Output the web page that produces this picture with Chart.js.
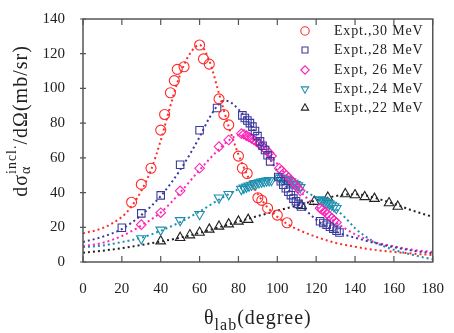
<!DOCTYPE html>
<html>
<head>
<meta charset="utf-8">
<script src="https://cdn.jsdelivr.net/npm/chart.js@4.4.1/dist/chart.umd.min.js"></script>
<style>
  html, body { margin: 0; padding: 0; background: #fff; }
  canvas { display: block; }
</style>
</head>
<body>
<canvas id="c" width="454" height="333"></canvas>
<script>
const xTicks = [0, 20, 40, 60, 80, 100, 120, 140, 160, 180];
const yTicks = [0, 20, 40, 60, 80, 100, 120, 140];

const labels = ['Expt.,30 MeV', 'Expt.,28 MeV', 'Expt, 26 MeV', 'Expt.,24 MeV', 'Expt.,22 MeV'];

// measured points
const e30X = [25, 30, 35, 40, 42, 45, 47, 48.5, 52, 60, 62, 65, 70, 72.5, 75, 80, 82, 84.5, 90, 92, 95, 100, 105];
const e30Y = [34.4, 44.7, 54, 76, 85, 97.5, 104.5, 111, 112.5, 125, 117, 114, 94, 85, 79, 61, 54, 51, 37, 35.5, 31, 27, 22.6];

const e28X = [20, 30, 40, 50, 60, 69,
  82, 83.3, 84.6, 85.9, 87.2, 88.5, 89.8, 91.1, 92.4, 93.7, 95, 96.3,
  100.5, 101.8, 103.1, 104.4, 105.7, 107, 108.3, 109.6, 110.9, 112.2,
  122, 123.7, 125.4, 127.1, 128.8, 130.5, 132];
const e28Y = [19.7, 28, 38.4, 56, 75.9, 88.7,
  84.5, 83, 81.5, 80, 78, 75.5, 72.5, 69.5, 67, 64.5, 61.5, 58,
  49, 46.5, 44.5, 42.5, 40.5, 38.5, 36.5, 35, 33.5, 32,
  23.5, 22.5, 21.5, 20.3, 19.2, 18, 17];

const e26X = [30, 40, 50, 60, 70, 75,
  81.5, 82.8, 84.1, 85.4, 86.7, 88, 89.3, 90.6, 91.9, 93.2, 94.5, 95.8, 97,
  101, 102.2, 103.4, 104.6, 105.8, 107, 108.2, 109.4, 110.6, 111.8,
  122, 123.2, 124.4, 125.6, 126.8, 128, 129.2, 130.4];
const e26Y = [21.5, 28.4, 41, 54, 66.5, 70.3,
  74, 73.6, 72.8, 72, 71.2, 70.3, 69.3, 68.2, 67, 65.8, 64.3, 62.8, 61,
  54, 52.7, 51.3, 50, 48.6, 47.2, 45.7, 44.2, 42.6, 41,
  31, 30, 29, 27.8, 26.5, 25.2, 24, 22.8];

const e24X = [30, 40, 50, 60, 70, 75,
  81.5, 82.8, 84.1, 85.4, 86.7, 88, 89.3, 90.6, 91.9, 93.2, 94.5, 95.8, 97,
  101, 102.2, 103.4, 104.6, 105.8, 107, 108.2, 109.4, 110.6, 111.8,
  122, 123.2, 124.4, 125.6, 126.8, 128, 129.2, 130.4];
const e24Y = [13.5, 18.5, 24, 27.5, 37, 39,
  42, 42.7, 43.3, 43.9, 44.4, 44.9, 45.4, 45.8, 46.2, 46.5, 46.8, 47, 47.1,
  48.5, 48.3, 48, 47.5, 47, 46.3, 45.5, 44.8, 44, 43,
  36, 35.5, 35, 34.2, 33.5, 32.8, 32, 31];

const e22X = [40, 50, 55, 60, 65, 70, 75, 80, 85, 112.5, 119, 126, 135, 140, 145, 150, 157.5, 162];
const e22Y = [12, 14, 15.5, 17, 18.8, 20.5, 21.8, 23.4, 24.4, 32.4, 34.8, 37.2, 39.2, 38.6, 37.5, 36.5, 34, 32];

// fitted curves
const f30X = [0, 10, 20, 25, 30, 35, 40, 45, 50, 55, 60, 65, 70, 75, 80, 85, 90, 95, 100, 105, 110, 120, 130, 140, 150, 160, 170, 180];
const f30Y = [16.5, 19.5, 26, 32, 41, 53, 70, 90, 108, 120, 125, 116, 97, 78, 62, 49, 39, 31.5, 26, 22, 19, 14.5, 11, 8.8, 7, 5.8, 4.8, 4];

const f28X = [0, 10, 20, 30, 40, 50, 60, 65, 70, 73, 76, 80, 85, 90, 95, 100, 105, 110, 115, 120, 125, 130, 140, 150, 160, 170, 180];
const f28Y = [11.5, 14.5, 19, 27, 38, 53, 72, 83, 91, 93, 92, 88, 81, 72, 62, 52, 43, 35.5, 29.5, 24.5, 20.5, 17.5, 14, 11, 8.5, 6.5, 5];

const f26X = [0, 10, 20, 30, 40, 50, 60, 70, 75, 80, 85, 90, 95, 100, 105, 110, 115, 120, 125, 130, 140, 150, 160, 170, 180];
const f26Y = [9, 11, 15, 21, 28.5, 40, 53, 65, 70, 73, 72.5, 68.5, 63, 56.5, 49.5, 43, 37, 32, 27.5, 23, 16, 11.5, 9, 7, 5.8];

const f24X = [0, 10, 20, 30, 40, 50, 60, 70, 80, 90, 95, 100, 105, 110, 115, 120, 125, 130, 135, 140, 145, 150, 160, 170, 180];
const f24Y = [8.5, 9.5, 11.5, 14, 18, 23, 29, 36, 42, 46, 47.3, 47.5, 46, 43.5, 40.5, 37, 34, 30.5, 25.5, 19.5, 15, 11.5, 7, 4, 1.5];

const f22X = [0, 10, 20, 30, 40, 50, 60, 70, 80, 90, 100, 110, 120, 130, 135, 140, 145, 150, 160, 170, 180];
const f22Y = [5.3, 6.5, 8, 9.8, 11.8, 14, 16.8, 20, 23.3, 26.5, 29.5, 32.5, 35.5, 38, 38.8, 39, 38.5, 37, 33.5, 29.5, 26];

const colors = ['#ff2a2a', '#3a3a9e', '#ff22b8', '#1b8fae', '#222222'];
const styles = ['circle', 'rect', 'rectRot', 'triangle', 'triangle'];
const rotations = [0, 0, 0, 180, 0];
const radii = [5, 5.3, 4.8, 5.5, 5.5];

const pts = (xs, ys) => xs.map((x, i) => ({ x, y: ys[i] }));
const expt = [[e30X, e30Y], [e28X, e28Y], [e26X, e26Y], [e24X, e24Y], [e22X, e22Y]];
const fits = [[f30X, f30Y], [f28X, f28Y], [f26X, f26Y], [f24X, f24Y], [f22X, f22Y]];

const datasets = [];
expt.forEach(([xs, ys], i) => {
  datasets.push({
    label: labels[i],
    data: pts(xs, ys),
    showLine: false,
    pointStyle: styles[i],
    rotation: rotations[i],
    pointRadius: radii[i],
    pointBorderWidth: 1.1,
    borderColor: colors[i],
    pointBorderColor: colors[i],
    backgroundColor: 'rgba(0,0,0,0)',
    pointBackgroundColor: 'rgba(0,0,0,0)'
  });
});
fits.forEach(([xs, ys], i) => {
  datasets.push({
    label: labels[i] + ' fit',
    data: pts(xs, ys),
    showLine: true,
    pointRadius: 0,
    borderColor: colors[i],
    borderWidth: 2,
    borderDash: [2, 3],
    tension: 0.4,
    cubicInterpolationMode: 'monotone'
  });
});

const serif = '"Liberation Serif", "Times New Roman", serif';
Chart.defaults.font.family = serif;
Chart.defaults.color = '#222';

function drawRuns(ctx, x, y, runs) {
  // runs: {text, size, dy} or {stack:[...]}
  let cx = x;
  runs.forEach(r => {
    const parts = r.stack || [r];
    let w = 0;
    parts.forEach(p => {
      ctx.font = p.size + 'px ' + serif;
      ctx.fillText(p.text, cx, y + (p.dy || 0));
      w = Math.max(w, ctx.measureText(p.text).width);
    });
    cx += w;
  });
  return cx - x;
}
function runsWidth(ctx, runs) {
  let w = 0;
  runs.forEach(r => {
    const parts = r.stack || [r];
    let m = 0;
    parts.forEach(p => { ctx.font = p.size + 'px ' + serif; m = Math.max(m, ctx.measureText(p.text).width); });
    w += m;
  });
  return w;
}

const decor = {
  id: 'decor',
  afterDraw(chart) {
    const { ctx, chartArea: a, scales: { x, y } } = chart;
    ctx.save();
    ctx.strokeStyle = '#555';
    ctx.lineWidth = 1.5;
    ctx.strokeRect(a.left, a.top, a.right - a.left, a.bottom - a.top);
    ctx.lineWidth = 1.2;
    ctx.beginPath();
    xTicks.forEach(v => {
      const px = x.getPixelForValue(v);
      ctx.moveTo(px, a.bottom); ctx.lineTo(px, a.bottom - 6);
      ctx.moveTo(px, a.top); ctx.lineTo(px, a.top + 6);
    });
    yTicks.forEach(v => {
      const py = y.getPixelForValue(v);
      ctx.moveTo(a.left - 3, py); ctx.lineTo(a.left + 3, py);
    });
    ctx.stroke();

    // legend
    ctx.textBaseline = 'middle';
    ctx.letterSpacing = '0.8px';
    ctx.font = '14px ' + serif;
    const rows = [31, 50, 70, 89, 108];
    labels.forEach((t, i) => {
      ctx.strokeStyle = colors[i];
      ctx.fillStyle = 'rgba(0,0,0,0)';
      ctx.lineWidth = 1.1;
      Chart.helpers.drawPoint(ctx, { pointStyle: styles[i], rotation: rotations[i], radius: 4.2, borderWidth: 1.1 }, 305, rows[i]);
      ctx.fillStyle = '#222';
      ctx.fillText(t, 334, rows[i]);
    });

    // axis titles
    ctx.textBaseline = 'alphabetic';
    ctx.letterSpacing = '1px';
    ctx.fillStyle = '#222';
    const xt = [{ text: 'θ', size: 20 }, { text: 'lab', size: 16, dy: 6 }, { text: '(degree)', size: 20 }];
    const xw = runsWidth(ctx, xt);
    drawRuns(ctx, (a.left + a.right) / 2 - xw / 2, 324, xt);

    const yt = [
      { text: 'dσ', size: 20 },
      { stack: [{ text: 'α', size: 14, dy: 3 }, { text: 'incl.', size: 14, dy: -11 }] },
      { text: '/dΩ(mb/sr)', size: 20 }
    ];
    const yw = runsWidth(ctx, yt);
    ctx.translate(27, 121);
    ctx.rotate(-Math.PI / 2);
    drawRuns(ctx, -yw / 2, 0, yt);
    ctx.restore();
  }
};

new Chart(document.getElementById('c'), {
  type: 'scatter',
  data: { datasets },
  options: {
    responsive: false,
    animation: false,
    layout: { padding: { top: 4, right: 11, left: 0, bottom: 0 } },
    plugins: { legend: { display: false }, tooltip: { enabled: false } },
    scales: {
      x: {
        type: 'linear', min: 0, max: 180,
        afterBuildTicks: s => { s.ticks = xTicks.map(v => ({ value: v })); },
        ticks: { padding: 10, font: { size: 15 }, color: '#222' },
        grid: { display: false },
        border: { display: false },
        afterFit: s => { s.height = 71; }
      },
      y: {
        type: 'linear', min: 0, max: 140,
        afterBuildTicks: s => { s.ticks = yTicks.map(v => ({ value: v })); },
        ticks: { padding: 10, font: { size: 15 }, color: '#222' },
        grid: { display: false },
        border: { display: false },
        afterFit: s => { s.width = 83; }
      }
    }
  },
  plugins: [decor]
});
</script>
</body>
</html>
